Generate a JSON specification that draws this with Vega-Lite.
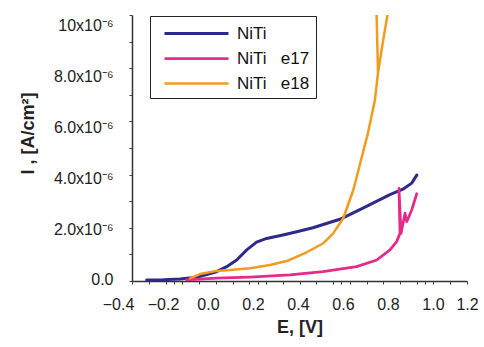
{
  "$schema": "https://vega.github.io/schema/vega-lite/v6.json",
  "width": 335,
  "height": 266,
  "autosize": {"type": "none"},
  "padding": {"left": 132, "top": 15, "right": 17, "bottom": 66},
  "background": "white",
  "config": {"view": {"stroke": null}, "font": "Liberation Sans"},
  "data": {"values": [
    {"s": "NiTi", "o": 1, "E": -0.33, "I": 0.04e-6},
    {"s": "NiTi", "o": 2, "E": -0.25, "I": 0.05e-6},
    {"s": "NiTi", "o": 3, "E": -0.171, "I": 0.075e-6},
    {"s": "NiTi", "o": 4, "E": -0.091, "I": 0.14e-6},
    {"s": "NiTi", "o": 5, "E": 0.004, "I": 0.35e-6},
    {"s": "NiTi", "o": 6, "E": 0.052, "I": 0.54e-6},
    {"s": "NiTi", "o": 7, "E": 0.1, "I": 0.79e-6},
    {"s": "NiTi", "o": 8, "E": 0.148, "I": 1.17e-6},
    {"s": "NiTi", "o": 9, "E": 0.195, "I": 1.46e-6},
    {"s": "NiTi", "o": 10, "E": 0.243, "I": 1.6e-6},
    {"s": "NiTi", "o": 11, "E": 0.321, "I": 1.73e-6},
    {"s": "NiTi", "o": 12, "E": 0.387, "I": 1.85e-6},
    {"s": "NiTi", "o": 13, "E": 0.464, "I": 2.0e-6},
    {"s": "NiTi", "o": 14, "E": 0.593, "I": 2.32e-6},
    {"s": "NiTi", "o": 15, "E": 0.703, "I": 2.74e-6},
    {"s": "NiTi", "o": 16, "E": 0.832, "I": 3.25e-6},
    {"s": "NiTi", "o": 17, "E": 0.894, "I": 3.45e-6},
    {"s": "NiTi", "o": 18, "E": 0.936, "I": 3.68e-6},
    {"s": "NiTi", "o": 19, "E": 0.96, "I": 3.98e-6},
    {"s": "NiTi\u00a0\u00a0\u00a0e17", "o": 1, "E": -0.139, "I": 0.04e-6},
    {"s": "NiTi\u00a0\u00a0\u00a0e17", "o": 2, "E": 0.004, "I": 0.11e-6},
    {"s": "NiTi\u00a0\u00a0\u00a0e17", "o": 3, "E": 0.164, "I": 0.15e-6},
    {"s": "NiTi\u00a0\u00a0\u00a0e17", "o": 4, "E": 0.355, "I": 0.23e-6},
    {"s": "NiTi\u00a0\u00a0\u00a0e17", "o": 5, "E": 0.512, "I": 0.35e-6},
    {"s": "NiTi\u00a0\u00a0\u00a0e17", "o": 6, "E": 0.673, "I": 0.54e-6},
    {"s": "NiTi\u00a0\u00a0\u00a0e17", "o": 7, "E": 0.769, "I": 0.79e-6},
    {"s": "NiTi\u00a0\u00a0\u00a0e17", "o": 8, "E": 0.832, "I": 1.17e-6},
    {"s": "NiTi\u00a0\u00a0\u00a0e17", "o": 9, "E": 0.864, "I": 1.48e-6},
    {"s": "NiTi\u00a0\u00a0\u00a0e17", "o": 10, "E": 0.88, "I": 1.79e-6},
    {"s": "NiTi\u00a0\u00a0\u00a0e17", "o": 11, "E": 0.875, "I": 3.48e-6},
    {"s": "NiTi\u00a0\u00a0\u00a0e17", "o": 12, "E": 0.885, "I": 1.79e-6},
    {"s": "NiTi\u00a0\u00a0\u00a0e17", "o": 13, "E": 0.904, "I": 2.55e-6},
    {"s": "NiTi\u00a0\u00a0\u00a0e17", "o": 14, "E": 0.912, "I": 2.23e-6},
    {"s": "NiTi\u00a0\u00a0\u00a0e17", "o": 15, "E": 0.936, "I": 2.67e-6},
    {"s": "NiTi\u00a0\u00a0\u00a0e17", "o": 16, "E": 0.96, "I": 3.28e-6},
    {"s": "NiTi\u00a0\u00a0\u00a0e18", "o": 1, "E": -0.123, "I": 0.10e-6},
    {"s": "NiTi\u00a0\u00a0\u00a0e18", "o": 2, "E": -0.075, "I": 0.26e-6},
    {"s": "NiTi\u00a0\u00a0\u00a0e18", "o": 3, "E": 0.004, "I": 0.38e-6},
    {"s": "NiTi\u00a0\u00a0\u00a0e18", "o": 4, "E": 0.068, "I": 0.41e-6},
    {"s": "NiTi\u00a0\u00a0\u00a0e18", "o": 5, "E": 0.164, "I": 0.48e-6},
    {"s": "NiTi\u00a0\u00a0\u00a0e18", "o": 6, "E": 0.259, "I": 0.60e-6},
    {"s": "NiTi\u00a0\u00a0\u00a0e18", "o": 7, "E": 0.339, "I": 0.75e-6},
    {"s": "NiTi\u00a0\u00a0\u00a0e18", "o": 8, "E": 0.434, "I": 1.08e-6},
    {"s": "NiTi\u00a0\u00a0\u00a0e18", "o": 9, "E": 0.514, "I": 1.42e-6},
    {"s": "NiTi\u00a0\u00a0\u00a0e18", "o": 10, "E": 0.561, "I": 1.79e-6},
    {"s": "NiTi\u00a0\u00a0\u00a0e18", "o": 11, "E": 0.609, "I": 2.36e-6},
    {"s": "NiTi\u00a0\u00a0\u00a0e18", "o": 12, "E": 0.657, "I": 3.42e-6},
    {"s": "NiTi\u00a0\u00a0\u00a0e18", "o": 13, "E": 0.689, "I": 4.40e-6},
    {"s": "NiTi\u00a0\u00a0\u00a0e18", "o": 14, "E": 0.706, "I": 4.92e-6},
    {"s": "NiTi\u00a0\u00a0\u00a0e18", "o": 15, "E": 0.727, "I": 5.56e-6},
    {"s": "NiTi\u00a0\u00a0\u00a0e18", "o": 16, "E": 0.76, "I": 6.80e-6},
    {"s": "NiTi\u00a0\u00a0\u00a0e18", "o": 17, "E": 0.775, "I": 7.82e-6},
    {"s": "NiTi\u00a0\u00a0\u00a0e18", "o": 18, "E": 0.792, "I": 8.68e-6},
    {"s": "NiTi\u00a0\u00a0\u00a0e18", "o": 19, "E": 0.808, "I": 9.44e-6},
    {"s": "NiTi\u00a0\u00a0\u00a0e18", "o": 20, "E": 0.822, "I": 10.08e-6},
    {"s": "NiTi\u00a0\u00a0\u00a0e18", "o": 21, "E": 0.83, "I": 10.5e-6},
    {"s": "NiTi\u00a0\u00a0\u00a0e18", "o": 22, "E": 0.766, "I": 10.5e-6},
    {"s": "NiTi\u00a0\u00a0\u00a0e18", "o": 23, "E": 0.769, "I": 9.8e-6},
    {"s": "NiTi\u00a0\u00a0\u00a0e18", "o": 24, "E": 0.772, "I": 8.8e-6},
    {"s": "NiTi\u00a0\u00a0\u00a0e18", "o": 25, "E": 0.775, "I": 7.82e-6}
  ]},
  "mark": {"type": "line", "clip": true, "strokeJoin": "round", "strokeCap": "round"},
  "encoding": {
    "x": {
      "field": "E", "type": "quantitative",
      "scale": {"domain": [-0.4, 1.2], "nice": false, "zero": false},
      "axis": {
        "title": "E, [V]",
        "titleFont": "Liberation Sans", "titleFontSize": 18, "titleFontWeight": "bold", "titleColor": "#222",
        "titlePadding": 6,
        "values": [-0.4, -0.32, -0.24, -0.2, -0.16, -0.08, 0, 0.08, 0.16, 0.2, 0.24, 0.32, 0.4, 0.48, 0.56, 0.6, 0.64, 0.72, 0.8, 0.88, 0.96, 1.0, 1.04, 1.12, 1.2],
        "labelExpr": "abs(round(datum.value*5) - datum.value*5) < 0.001 ? format(datum.value, '.1f') : ''",
        "labelOffset": {"expr": "datum.value > 1.1 ? 0 : -14 + (datum.value + 0.4) * 15.6"},
        "labelFont": "Liberation Sans", "labelFontSize": 16, "labelColor": "#222",
        "labelPadding": 12, "labelOverlap": false, "labelFlush": false,
        "tickSize": 3, "tickColor": "#444", "domainColor": "#333", "domainWidth": 1.5, "grid": false
      }
    },
    "y": {
      "field": "I", "type": "quantitative",
      "scale": {"domain": [0, 1e-5], "nice": false},
      "axis": {
        "title": "I , [A/cm²]",
        "titleFont": "Liberation Sans", "titleFontSize": 18, "titleFontWeight": "bold", "titleColor": "#222",
        "titleX": -104, "titleY": 118, "titleAngle": -90, "titleAlign": "center", "titleBaseline": "middle",
        "values": [0, 1e-6, 2e-6, 3e-6, 4e-6, 5e-6, 6e-6, 7e-6, 8e-6, 9e-6, 1e-5],
        "labelExpr": "round(datum.value*1e6) % 2 ? '' : round(datum.value*1e6) == 0 ? '0.0' : round(datum.value*1e6) == 10 ? '10x10⁻⁶' : format(round(datum.value*1e6), '.1f') + 'x10⁻⁶'",
        "labelOffset": {"expr": "round(datum.value*1e6) == 0 ? -2 : round(datum.value*1e6)"},
        "labelFont": "Liberation Sans", "labelFontSize": 16, "labelColor": "#222",
        "labelPadding": 16, "labelOverlap": false, "labelFlush": false,
        "tickSize": 3, "tickColor": "#444", "domainColor": "#333", "domainWidth": 1.5, "grid": false
      }
    },
    "color": {
      "field": "s", "type": "nominal",
      "scale": {"domain": ["NiTi", "NiTi\u00a0\u00a0\u00a0e17", "NiTi\u00a0\u00a0\u00a0e18"], "range": ["#2d2a88", "#e42b8b", "#f29b1e"]},
      "legend": {
        "title": null, "orient": "none", "legendX": 18, "legendY": 1,
        "strokeColor": "#222", "fillColor": "white", "padding": 6,
        "symbolType": "M-0.3,0H6.1", "symbolSize": 400, "symbolStrokeWidth": 2.5,
        "labelOffset": 58,
        "labelFont": "Liberation Sans", "labelFontSize": 17, "labelColor": "#111",
        "rowPadding": 5
      }
    },
    "strokeWidth": {
      "field": "s", "type": "nominal",
      "scale": {"domain": ["NiTi", "NiTi\u00a0\u00a0\u00a0e17", "NiTi\u00a0\u00a0\u00a0e18"], "range": [3, 2.5, 2]},
      "legend": null
    },
    "order": {"field": "o", "type": "quantitative"}
  }
}
